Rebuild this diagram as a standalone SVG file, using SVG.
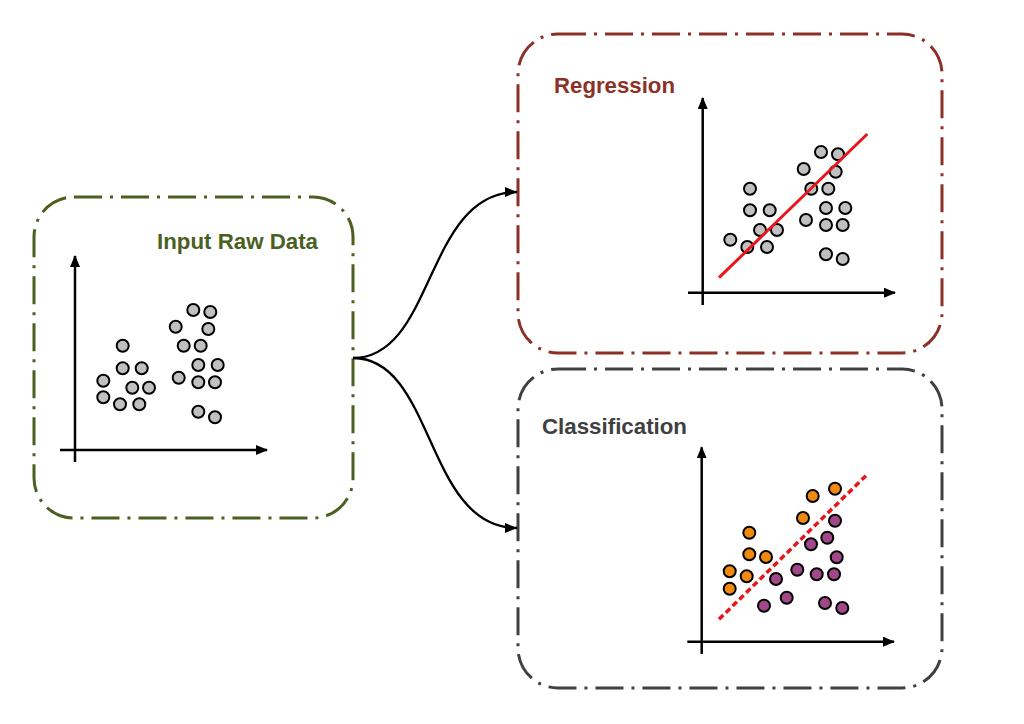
<svg xmlns="http://www.w3.org/2000/svg" width="1024" height="724" viewBox="0 0 1024 724">
<style>
.box{fill:none;stroke-width:3;stroke-dasharray:28 8 3 8;}
.lbl{font-family:"Liberation Sans",Arial,sans-serif;font-weight:bold;font-size:22px;}
.ax{stroke:#000;stroke-width:2.5;fill:none;}
.g{fill:#c0c0c0;stroke:#000;stroke-width:2;}
.o{fill:#ef8a0e;stroke:#000;stroke-width:2;}
.p{fill:#a2488a;stroke:#000;stroke-width:2;}
.conn{fill:none;stroke:#000;stroke-width:2.3;}
</style>
<defs>
<marker id="ah" viewBox="0 0 12 10" refX="12" refY="5" markerWidth="12" markerHeight="10" markerUnits="userSpaceOnUse" orient="auto">
<path d="M0,0 L12,5 L0,10 Z" fill="#000"/>
</marker>
<marker id="ax" viewBox="0 0 12 10" refX="11" refY="5" markerWidth="12" markerHeight="10" markerUnits="userSpaceOnUse" orient="auto">
<path d="M0,0 L12,5 L0,10 Z" fill="#000"/>
</marker>
</defs>
<rect width="1024" height="724" fill="#fff"/>

<g id="input">
<rect class="box" x="34" y="197" width="319" height="321" rx="40" stroke="#4b5f1f"/>
<text class="lbl" x="157" y="249" fill="#4b5f1f" textLength="161" lengthAdjust="spacingAndGlyphs">Input Raw Data</text>
<line class="ax" x1="75" y1="462" x2="75" y2="256" marker-end="url(#ax)"/>
<line class="ax" x1="60" y1="450" x2="267" y2="450" marker-end="url(#ax)"/>
<g class="g">
<circle cx="122.7" cy="345.7" r="6"/><circle cx="122.7" cy="368.3" r="6"/><circle cx="141.7" cy="368.3" r="6"/>
<circle cx="103.3" cy="380.7" r="6"/><circle cx="132.3" cy="387.7" r="6"/><circle cx="149" cy="387.7" r="6"/>
<circle cx="103.3" cy="397.3" r="6"/><circle cx="120" cy="404.3" r="6"/><circle cx="139.3" cy="404.3" r="6"/>
<circle cx="193.3" cy="310" r="6"/><circle cx="210.3" cy="312" r="6"/><circle cx="175.7" cy="326.7" r="6"/>
<circle cx="208.3" cy="329" r="6"/><circle cx="183.7" cy="345.7" r="6"/><circle cx="200.7" cy="345.7" r="6"/>
<circle cx="198.3" cy="365" r="6"/><circle cx="217.7" cy="365" r="6"/><circle cx="178.7" cy="377.7" r="6"/>
<circle cx="198.3" cy="382.3" r="6"/><circle cx="215" cy="382.3" r="6"/><circle cx="198.3" cy="411.7" r="6"/>
<circle cx="215" cy="417.3" r="6"/>
</g>
</g>

<g id="regression">
<rect class="box" x="518" y="34" width="424" height="319" rx="40" stroke="#8b3128"/>
<text class="lbl" x="554" y="93" fill="#8b3128" textLength="121" lengthAdjust="spacingAndGlyphs">Regression</text>
<line class="ax" x1="702.7" y1="305" x2="702.7" y2="98" marker-end="url(#ax)"/>
<line class="ax" x1="688" y1="292.7" x2="895" y2="292.7" marker-end="url(#ax)"/>
<g class="g">
<circle cx="750" cy="188.7" r="6"/><circle cx="750" cy="210.3" r="6"/><circle cx="769.7" cy="210.3" r="6"/>
<circle cx="730.3" cy="239.7" r="6"/><circle cx="760" cy="230" r="6"/><circle cx="777" cy="230" r="6"/>
<circle cx="747.3" cy="247" r="6"/><circle cx="767" cy="247" r="6"/>
<circle cx="821" cy="152" r="6"/><circle cx="838" cy="154.3" r="6"/><circle cx="803.7" cy="169" r="6"/>
<circle cx="835.7" cy="171.7" r="6"/><circle cx="811.3" cy="188.7" r="6"/><circle cx="828.3" cy="188.7" r="6"/>
<circle cx="826" cy="208" r="6"/><circle cx="845.3" cy="208" r="6"/><circle cx="806" cy="220" r="6"/>
<circle cx="826" cy="225" r="6"/><circle cx="842.7" cy="225" r="6"/><circle cx="826" cy="254.3" r="6"/>
<circle cx="842.7" cy="259" r="6"/>
</g>
<line x1="719" y1="277.7" x2="867.3" y2="134" stroke="#e8161b" stroke-width="3"/>
</g>

<g id="classification">
<rect class="box" x="518" y="369" width="424" height="319" rx="40" stroke="#404040"/>
<text class="lbl" x="542" y="434" fill="#404040" textLength="145" lengthAdjust="spacingAndGlyphs">Classification</text>
<line class="ax" x1="701.7" y1="654" x2="701.7" y2="447.3" marker-end="url(#ax)"/>
<line class="ax" x1="687.3" y1="641.7" x2="894" y2="641.7" marker-end="url(#ax)"/>
<g class="o">
<circle cx="749.3" cy="532.7" r="6"/><circle cx="749.3" cy="554.3" r="6"/><circle cx="766" cy="557" r="6"/>
<circle cx="729.7" cy="571.3" r="6"/><circle cx="746.7" cy="576.3" r="6"/><circle cx="729.7" cy="588.7" r="6"/>
<circle cx="812.7" cy="496" r="6"/><circle cx="835" cy="488.7" r="6"/><circle cx="803" cy="518" r="6"/>
</g>
<g class="p">
<circle cx="835" cy="520.7" r="6"/><circle cx="827.3" cy="537.7" r="6"/><circle cx="811" cy="544.3" r="6"/>
<circle cx="836.7" cy="557.3" r="6"/><circle cx="776" cy="579" r="6"/><circle cx="797.3" cy="569.7" r="6"/>
<circle cx="816.7" cy="574.3" r="6"/><circle cx="834" cy="574.3" r="6"/><circle cx="786.7" cy="597.7" r="6"/>
<circle cx="764" cy="605.7" r="6"/><circle cx="825" cy="603" r="6"/><circle cx="842.3" cy="608" r="6"/>
</g>
<line x1="719" y1="619.3" x2="867.7" y2="474" stroke="#e8161b" stroke-width="3.5" stroke-dasharray="6 3.5"/>
</g>

<g id="connectors">
<path class="conn" d="M353,358 C435,358 425,192 517,192" marker-end="url(#ah)"/>
<path class="conn" d="M353,358 C435,358 425,528 517,528" marker-end="url(#ah)"/>
</g>
</svg>
